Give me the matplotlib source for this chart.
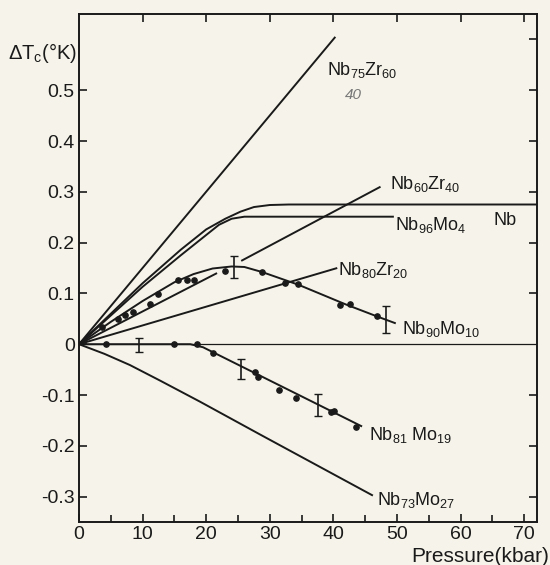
import matplotlib
matplotlib.use("Agg")
import matplotlib.pyplot as plt
from matplotlib.ticker import MultipleLocator

plt.rcParams["font.family"] = ["Liberation Sans", "DejaVu Sans"]
plt.rcParams["mathtext.default"] = "regular"

# -----------------------
# Data
# -----------------------
# Nb75Zr25 straight line
zr25_x = [0, 40.3]
zr25_y = [0, 0.605]

# pure Nb
nb_x = [0, 10, 16, 20, 23, 25.4, 27.5, 30, 33, 72]
nb_y = [0, 0.120, 0.186, 0.226, 0.247, 0.261, 0.270, 0.274, 0.275, 0.275]

# Nb96Mo4
mo4_x = [0, 10, 16, 20, 22, 24, 26, 49.5]
mo4_y = [0, 0.113, 0.175, 0.215, 0.235, 0.247, 0.251, 0.251]

# Nb60Zr40 straight line (broken around the error bar)
zr40_x1 = [0, 21.7]
zr40_y1 = [0, 0.140]
zr40_x2 = [25.5, 47.4]
zr40_y2 = [0.164, 0.310]

# Nb80Zr20 straight line
zr20_x = [0, 40.6]
zr20_y = [0, 0.150]

# Nb90Mo10 curve + points
mo10_x = [0, 5, 10, 15, 18, 21, 24, 26, 28.8, 34.5, 42, 47, 49.8]
mo10_y = [0, 0.044, 0.085, 0.122, 0.138, 0.149, 0.153, 0.152, 0.142, 0.117, 0.078, 0.054, 0.041]
mo10_px = [3.6, 6.2, 7.2, 8.5, 11.2, 12.4, 15.5, 16.9, 18.0, 23.0, 28.8, 32.4, 34.5, 41.0, 42.6, 46.9]
mo10_py = [0.033, 0.050, 0.057, 0.063, 0.080, 0.098, 0.126, 0.127, 0.126, 0.145, 0.142, 0.121, 0.118, 0.078, 0.080, 0.056]
mo10_ex = [24.4, 48.2]
mo10_ey = [0.152, 0.049]
mo10_err = [0.022, 0.026]

# Nb81Mo19 curve + points
mo19_x = [0, 17.5, 19.5, 21.1, 44.5]
mo19_y = [0, 0, -0.006, -0.016, -0.162]
mo19_px = [4.3, 15.0, 18.6, 21.1, 27.7, 28.1, 31.5, 34.1, 39.6, 40.1, 43.6]
mo19_py = [0.0, 0.0, 0.0, -0.018, -0.054, -0.065, -0.090, -0.105, -0.134, -0.132, -0.163]
mo19_ex = [9.5, 25.5, 37.6]
mo19_ey = [-0.002, -0.049, -0.120]
mo19_err = [0.014, 0.020, 0.022]

# Nb73Mo27
mo27_x = [0, 4, 8, 12.8, 19, 28.5, 46.2]
mo27_y = [0, -0.019, -0.041, -0.072, -0.113, -0.178, -0.298]

y_ticks = [-0.3, -0.2, -0.1, 0, 0.1, 0.2, 0.3, 0.4, 0.5]
y_tick_labels = ["-0.3", "-0.2", "-0.1", "0", "0.1", "0.2", "0.3", "0.4", "0.5"]
x_ticks = [0, 10, 20, 30, 40, 50, 60, 70]

BG = "#f6f4ea"
INK = "#1a1a1a"
LW = 1.4

fig = plt.figure(figsize=(5.5, 5.65), dpi=100, facecolor=BG)
ax = fig.add_axes([79 / 550, 1 - 522 / 565, (537 - 79) / 550, (522 - 14) / 565])
ax.set_facecolor(BG)

# reference line at zero
ax.axhline(0, color=INK, lw=0.9)

for xs, ys in [(zr25_x, zr25_y), (nb_x, nb_y), (mo4_x, mo4_y),
               (zr40_x1, zr40_y1), (zr40_x2, zr40_y2), (zr20_x, zr20_y),
               (mo10_x, mo10_y), (mo19_x, mo19_y), (mo27_x, mo27_y)]:
    ax.plot(xs, ys, color=INK, lw=LW, solid_capstyle="butt")

ax.plot(mo10_px, mo10_py, "o", color=INK, ms=3.8)
ax.plot(mo19_px, mo19_py, "o", color=INK, ms=3.8)
ax.errorbar(mo10_ex, mo10_ey, yerr=mo10_err, fmt="none", ecolor=INK, elinewidth=1.2, capsize=3)
ax.errorbar(mo19_ex, mo19_ey, yerr=mo19_err, fmt="none", ecolor=INK, elinewidth=1.2, capsize=3)

# curve labels
fs = 13
ax.text(39.0, 0.530, "Nb$_{75}$Zr$_{60}$", fontsize=fs, color=INK)
ax.text(41.8, 0.482, "40", fontsize=11, color="#777777", style="italic")
ax.text(48.9, 0.306, "Nb$_{60}$Zr$_{40}$", fontsize=fs, color=INK)
ax.text(65.1, 0.235, "Nb", fontsize=fs, color=INK)
ax.text(49.7, 0.225, "Nb$_{96}$Mo$_{4}$", fontsize=fs, color=INK)
ax.text(40.7, 0.137, "Nb$_{80}$Zr$_{20}$", fontsize=fs, color=INK)
ax.text(50.8, 0.020, "Nb$_{90}$Mo$_{10}$", fontsize=fs, color=INK)
ax.text(45.6, -0.188, "Nb$_{81}$ Mo$_{19}$", fontsize=fs, color=INK)
ax.text(46.9, -0.316, "Nb$_{73}$Mo$_{27}$", fontsize=fs, color=INK)

ax.set_xlim(0, 72)
ax.set_ylim(-0.35, 0.65)
ax.set_xticks(x_ticks)
ax.xaxis.set_minor_locator(MultipleLocator(5))
ax.set_yticks(y_ticks)
ax.set_yticklabels(y_tick_labels)
ax.tick_params(axis="both", which="major", direction="in", length=6, width=1.2,
               labelsize=14, colors=INK)
ax.tick_params(axis="x", which="minor", direction="in", length=5, width=1.2, colors=INK)
ax.tick_params(axis="x", pad=3)
ax.tick_params(axis="y", pad=3)

# ticks on top and right without labels
sec_x = ax.secondary_xaxis("top")
sec_x.set_xticks([10, 20, 30, 40, 50, 60, 70])
sec_x.tick_params(direction="in", length=6, width=1.2, labeltop=False, colors=INK)
sec_x.spines["top"].set_visible(False)
sec_y = ax.secondary_yaxis("right")
sec_y.set_yticks([-0.3, -0.2, -0.1, 0.1, 0.2, 0.3, 0.4, 0.5, 0.6])
sec_y.tick_params(direction="in", length=6, width=1.2, labelright=False, colors=INK)
sec_y.spines["right"].set_visible(False)

for s in ax.spines.values():
    s.set_linewidth(1.4)
    s.set_color(INK)

fig.text(8 / 550, 1 - 53 / 565, r"$\Delta$T$_c$(°K)", fontsize=14.5, color=INK,
         ha="left", va="center")
fig.text(549 / 550, 1 - 556 / 565, "Pressure(kbar)", fontsize=15, color=INK,
         ha="right", va="center")

fig.savefig("out.png", dpi=100, facecolor=BG)
